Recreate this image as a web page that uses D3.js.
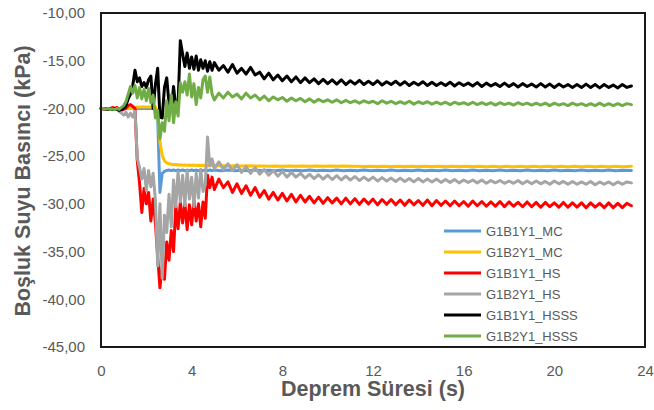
<!DOCTYPE html>
<html><head><meta charset="utf-8">
<script src="https://cdn.jsdelivr.net/npm/d3@7"></script>
<style>
body{margin:0;background:#fff}
text{font-family:'Liberation Sans',Arial,sans-serif}
</style>
</head><body>
<svg id="chart" width="654" height="410"></svg>
<script>
// ---- time samples (s) ----
const tEarly = [0.0,0.1,0.2,0.3,0.4,0.5,0.6,0.7,0.8,0.9,1.0,1.1,1.2,1.3,1.4,1.5,1.6,1.7,1.8,1.9,
  2.0,2.1,2.2,2.3,2.4,2.5,2.6,2.7,2.8,2.9,3.0,3.1,3.2,3.3,3.4,3.5,3.6,3.7,3.8,3.9,
  4.0,4.1,4.2,4.3,4.4,4.5,4.6,4.7,4.8,4.9];
// coarse late samples (MC series)
const tLate = [5.0,5.3,5.6,5.9,6.2,6.5,6.8,7.1,7.4,7.7,8.0,8.3,8.6,8.9,9.2,9.5,9.8,10.1,10.4,10.7,
  11.0,11.3,11.6,11.9,12.2,12.5,12.8,13.1,13.4,13.7,14.0,14.3,14.6,14.9,15.2,15.5,15.8,16.1,16.4,16.7,
  17.0,17.3,17.6,17.9,18.2,18.5,18.8,19.1,19.4,19.7,20.0,20.3,20.6,20.9,21.2,21.5,21.8,22.1,22.4,22.7,
  23.0,23.4];
// dense late samples (HS / HSSS series)
const tLateDense = [5.0,5.2,5.4,5.6,5.8,6.0,6.2,6.4,6.6,6.8,
  7.0,7.2,7.4,7.6,7.8,8.0,8.2,8.4,8.6,8.8,
  9.0,9.2,9.4,9.6,9.8,10.0,10.2,10.4,10.6,10.8,
  11.0,11.2,11.4,11.6,11.8,12.0,12.2,12.4,12.6,12.8,
  13.0,13.2,13.4,13.6,13.8,14.0,14.2,14.4,14.6,14.8,
  15.0,15.2,15.4,15.6,15.8,16.0,16.2,16.4,16.6,16.8,
  17.0,17.2,17.4,17.6,17.8,18.0,18.2,18.4,18.6,18.8,
  19.0,19.2,19.4,19.6,19.8,20.0,20.2,20.4,20.6,20.8,
  21.0,21.2,21.4,21.6,21.8,22.0,22.2,22.4,22.6,22.8,
  23.0,23.2,23.4];

// ---- series names / colours ----
const seriesNames = ["G1B1Y1_MC","G1B2Y1_MC","G1B1Y1_HS","G1B2Y1_HS","G1B1Y1_HSSS","G1B2Y1_HSSS"];
const seriesColors = ["#5B9BD5","#FFC000","#FF0000","#A5A5A5","#000000","#70AD47"];

// ---- G1B1Y1_MC (kPa) ----
const b1MC_early = [-20.0,-20.02,-20.0,-20.03,-20.01,-20.02,-20.0,-20.03,-20.02,-20.0,
  -20.02,-20.0,-20.03,-20.01,-20.0,-20.02,-20.0,-20.02,-20.01,-20.0,
  -20.02,-20.0,-20.02,-20.01,-20.0,-21.0,-28.8,-26.8,-26.6,-26.5,
  -26.45,-26.52,-26.45,-26.52,-26.46,-26.52,-26.45,-26.53,-26.46,-26.52,
  -26.45,-26.52,-26.46,-26.53,-26.45,-26.52,-26.46,-26.52,-26.45,-26.52];
const b1MC_late = [-26.46,-26.53,-26.46,-26.52,-26.47,-26.53,-26.46,-26.52,-26.47,-26.53,
  -26.46,-26.53,-26.47,-26.52,-26.46,-26.53,-26.47,-26.52,-26.46,-26.53,
  -26.47,-26.53,-26.46,-26.52,-26.47,-26.53,-26.46,-26.53,-26.47,-26.52,
  -26.46,-26.53,-26.47,-26.52,-26.46,-26.53,-26.47,-26.53,-26.46,-26.52,
  -26.47,-26.53,-26.46,-26.52,-26.47,-26.53,-26.46,-26.53,-26.47,-26.52,
  -26.46,-26.53,-26.47,-26.52,-26.46,-26.53,-26.47,-26.53,-26.46,-26.52,
  -26.47,-26.5];

// ---- G1B2Y1_MC (kPa) ----
const b2MC_early = [-20.0,-20.02,-20.0,-20.01,-20.02,-20.0,-20.01,-20.02,-20.0,-20.01,
  -20.0,-20.02,-20.0,-20.01,-20.0,-20.0,-19.85,-19.86,-19.84,-19.85,
  -19.86,-19.85,-19.84,-19.86,-19.85,-20.6,-23.5,-24.9,-25.5,-25.7,
  -25.8,-25.85,-25.9,-25.88,-25.93,-25.9,-25.95,-25.92,-25.96,-25.93,
  -25.97,-25.94,-25.98,-25.95,-25.99,-25.96,-26.0,-25.97,-26.0,-25.98];
const b2MC_late = [-26.02,-25.99,-26.03,-26.0,-26.04,-26.01,-26.04,-26.02,-26.05,-26.02,
  -26.05,-26.03,-26.06,-26.03,-26.06,-26.04,-26.07,-26.04,-26.07,-26.04,
  -26.07,-26.05,-26.08,-26.05,-26.08,-26.05,-26.08,-26.05,-26.08,-26.06,
  -26.09,-26.06,-26.09,-26.06,-26.09,-26.06,-26.09,-26.06,-26.09,-26.07,
  -26.1,-26.07,-26.1,-26.07,-26.1,-26.07,-26.1,-26.07,-26.1,-26.07,
  -26.1,-26.07,-26.1,-26.07,-26.1,-26.07,-26.1,-26.07,-26.1,-26.07,
  -26.1,-26.07];

// ---- G1B1Y1_HS (kPa) ----
const b1HS_early = [-20.0,-20.05,-20.1,-20.0,-20.1,-19.9,-20.0,-19.9,-20.1,-20.2,
  -20.1,-20.0,-19.7,-19.6,-19.8,-20.0,-25.5,-27.8,-30.9,-28.4,
  -30.0,-28.8,-31.8,-29.5,-32.0,-35.5,-38.8,-36.5,-37.9,-34.0,
  -35.9,-32.8,-35.0,-30.2,-32.6,-29.8,-32.0,-29.9,-32.7,-30.1,
  -32.2,-29.7,-31.8,-30.0,-32.4,-29.8,-31.5,-27.0,-28.3,-27.2];
const b1HS_late = [-28.5,-27.4,-28.3,-27.7,-28.8,-27.9,-28.9,-28.1,-29.1,-28.3,
  -29.3,-28.6,-29.5,-28.8,-29.6,-28.9,-29.7,-29.0,-29.8,-29.1,
  -29.8,-29.2,-29.9,-29.3,-29.95,-29.35,-29.9,-29.4,-30.0,-29.4,
  -30.0,-29.45,-30.05,-29.5,-30.0,-29.5,-30.1,-29.55,-30.05,-29.55,
  -30.1,-29.6,-30.15,-29.6,-30.1,-29.65,-30.15,-29.6,-30.2,-29.65,
  -30.15,-29.7,-30.2,-29.7,-30.2,-29.75,-30.25,-29.7,-30.2,-29.75,
  -30.25,-29.8,-30.25,-29.75,-30.3,-29.8,-30.25,-29.85,-30.3,-29.8,
  -30.3,-29.85,-30.35,-29.85,-30.3,-29.9,-30.35,-29.85,-30.35,-29.9,
  -30.35,-29.9,-30.4,-29.9,-30.35,-29.95,-30.4,-29.9,-30.4,-29.95,
  -30.4,-29.95,-30.2];

// ---- G1B2Y1_HS (kPa) ----
const b2HS_early = [-20.0,-20.0,-20.05,-20.0,-20.1,-20.05,-20.1,-20.0,-20.3,-20.5,
  -20.7,-20.4,-20.9,-20.5,-20.9,-20.3,-25.2,-26.2,-27.4,-26.3,
  -28.6,-26.5,-28.2,-26.8,-29.6,-36.5,-30.0,-37.8,-31.2,-33.0,
  -29.0,-32.4,-27.5,-30.3,-26.6,-29.8,-27.0,-30.2,-26.5,-29.5,
  -27.2,-30.3,-26.8,-29.4,-26.4,-28.7,-28.0,-23.0,-26.0,-25.3];
const b2HS_late = [-26.3,-25.6,-26.4,-25.8,-26.5,-25.9,-26.7,-26.1,-26.8,-26.2,
  -26.9,-26.4,-27.0,-26.5,-27.1,-26.6,-27.2,-26.7,-27.2,-26.8,
  -27.3,-26.9,-27.35,-26.95,-27.4,-27.0,-27.45,-27.05,-27.5,-27.1,
  -27.5,-27.15,-27.55,-27.2,-27.55,-27.2,-27.6,-27.25,-27.6,-27.3,
  -27.65,-27.3,-27.65,-27.35,-27.7,-27.35,-27.7,-27.4,-27.7,-27.4,
  -27.75,-27.45,-27.75,-27.45,-27.8,-27.5,-27.75,-27.5,-27.8,-27.5,
  -27.85,-27.55,-27.8,-27.55,-27.85,-27.6,-27.85,-27.55,-27.9,-27.6,
  -27.9,-27.6,-27.9,-27.65,-27.95,-27.6,-27.9,-27.65,-27.95,-27.65,
  -27.95,-27.7,-27.95,-27.65,-28.0,-27.7,-27.95,-27.7,-28.0,-27.7,
  -27.95,-27.7,-27.8];

// ---- G1B1Y1_HSSS (kPa) ----
const b1HSSS_early = [-20.0,-20.05,-20.0,-20.1,-20.05,-20.1,-20.0,-20.1,-20.2,-20.1,
  -20.0,-19.7,-19.0,-18.5,-17.6,-16.0,-17.2,-16.8,-17.7,-17.3,
  -17.8,-17.0,-16.6,-20.0,-17.5,-15.8,-20.9,-21.0,-17.8,-16.8,
  -19.5,-20.3,-17.7,-19.9,-19.6,-12.9,-14.3,-15.6,-14.2,-15.8,
  -14.6,-15.9,-14.5,-16.0,-14.9,-15.8,-15.0,-16.1,-15.1,-16.0];
const b1HSSS_late = [-15.2,-16.0,-15.5,-16.2,-15.4,-16.3,-15.8,-16.4,-15.7,-16.5,
  -16.2,-16.9,-16.3,-17.0,-16.5,-17.1,-16.6,-17.2,-16.7,-17.3,
  -16.8,-17.3,-16.9,-17.4,-16.95,-17.4,-17.0,-17.45,-17.0,-17.5,
  -17.1,-17.45,-17.05,-17.5,-17.15,-17.5,-17.1,-17.55,-17.2,-17.5,
  -17.15,-17.55,-17.2,-17.6,-17.25,-17.55,-17.2,-17.6,-17.25,-17.6,
  -17.3,-17.6,-17.25,-17.65,-17.3,-17.6,-17.35,-17.65,-17.3,-17.7,
  -17.35,-17.65,-17.4,-17.7,-17.35,-17.7,-17.4,-17.75,-17.4,-17.7,
  -17.45,-17.75,-17.4,-17.75,-17.45,-17.8,-17.45,-17.75,-17.5,-17.8,
  -17.5,-17.8,-17.45,-17.8,-17.5,-17.85,-17.5,-17.8,-17.55,-17.85,
  -17.5,-17.8,-17.65];

// ---- G1B2Y1_HSSS (kPa) ----
const b2HSSS_early = [-20.0,-20.0,-20.05,-20.0,-20.1,-20.05,-20.1,-20.0,-20.1,-19.9,
  -19.7,-19.3,-18.5,-17.7,-18.4,-17.6,-18.9,-17.8,-19.0,-18.0,
  -19.2,-17.9,-19.4,-18.6,-21.0,-20.2,-23.2,-21.5,-22.4,-19.2,
  -21.3,-18.6,-21.5,-19.3,-20.8,-17.3,-18.3,-17.2,-18.6,-16.4,
  -18.8,-17.4,-19.6,-17.8,-18.9,-17.0,-16.6,-18.3,-16.7,-18.5];
const b2HSSS_late = [-19.1,-18.4,-18.9,-18.3,-18.8,-18.5,-19.0,-18.4,-18.9,-18.6,
  -19.1,-18.7,-19.2,-18.8,-19.1,-18.85,-19.25,-18.9,-19.2,-18.95,
  -19.3,-19.0,-19.35,-19.05,-19.3,-19.1,-19.35,-19.1,-19.4,-19.15,
  -19.4,-19.2,-19.45,-19.2,-19.4,-19.25,-19.5,-19.2,-19.45,-19.25,
  -19.5,-19.3,-19.5,-19.25,-19.55,-19.3,-19.5,-19.3,-19.55,-19.35,
  -19.55,-19.35,-19.6,-19.35,-19.55,-19.4,-19.6,-19.35,-19.6,-19.4,
  -19.6,-19.4,-19.65,-19.4,-19.6,-19.45,-19.65,-19.4,-19.6,-19.45,
  -19.65,-19.45,-19.65,-19.45,-19.7,-19.45,-19.65,-19.5,-19.7,-19.45,
  -19.65,-19.5,-19.7,-19.5,-19.7,-19.45,-19.7,-19.5,-19.7,-19.5,
  -19.7,-19.5,-19.6];

// ---- axis ticks ----
const xTicks = [0,4,8,12,16,20,24];
const yTicks = [-45,-40,-35,-30,-25,-20,-15,-10];

const seriesValues = [
  b1MC_early.concat(b1MC_late),
  b2MC_early.concat(b2MC_late),
  b1HS_early.concat(b1HS_late),
  b2HS_early.concat(b2HS_late),
  b1HSSS_early.concat(b1HSSS_late),
  b2HSSS_early.concat(b2HSSS_late)
];
const seriesTimes = [
  tEarly.concat(tLate), tEarly.concat(tLate),
  tEarly.concat(tLateDense), tEarly.concat(tLateDense),
  tEarly.concat(tLateDense), tEarly.concat(tLateDense)
];

const svg = d3.select("#chart");
const L = 101, R = 645, T = 13, B = 347;
const x = d3.scaleLinear().domain([0,24]).range([L,R]);
const y = d3.scaleLinear().domain([-45,-10]).range([B,T]);
const grey = "#595959";

// lines
const line = d3.line().x(d => x(d[0])).y(d => y(d[1]));
const g = svg.append("g");
seriesValues.forEach((vals, i) => {
  const pts = seriesTimes[i].map((t, k) => [t, vals[k]]);
  g.append("path").datum(pts)
    .attr("d", line)
    .attr("fill","none")
    .attr("stroke", seriesColors[i])
    .attr("stroke-width", 3)
    .attr("stroke-linejoin","round")
    .attr("stroke-linecap","round");
});

// frame
svg.append("rect").attr("x",L).attr("y",T).attr("width",R-L).attr("height",B-T)
  .attr("fill","none").attr("stroke","#1a1a1a").attr("stroke-width",2);

// axes
const xAxis = svg.append("g").attr("transform",`translate(0,${B})`)
  .call(d3.axisBottom(x).tickValues(xTicks).tickSize(0).tickPadding(18).tickFormat(d3.format("d")));
xAxis.select(".domain").remove();
xAxis.selectAll("text").attr("fill",grey).style("font-size","15px");

const yAxis = svg.append("g").attr("transform",`translate(${L},0)`)
  .call(d3.axisLeft(y).tickValues(yTicks).tickSize(0).tickPadding(16)
    .tickFormat(d => d.toFixed(2).replace(".", ",")));
yAxis.select(".domain").remove();
yAxis.selectAll("text").attr("fill",grey).style("font-size","15px");

// axis titles
svg.append("text").attr("x",373).attr("y",396).attr("text-anchor","middle")
  .attr("fill",grey).style("font-size","21.5px").style("font-weight","bold")
  .text("Deprem Süresi (s)");
svg.append("text").attr("transform","translate(30,181) rotate(-90)").attr("text-anchor","middle")
  .attr("fill",grey).style("font-size","21.5px").style("font-weight","bold")
  .text("Boşluk Suyu Basıncı (kPa)");

// legend
const lg = svg.append("g");
seriesNames.forEach((n, i) => {
  const cy = 231 + i*21;
  lg.append("line").attr("x1",444).attr("x2",481).attr("y1",cy).attr("y2",cy)
    .attr("stroke",seriesColors[i]).attr("stroke-width",3);
  lg.append("text").attr("x",486).attr("y",cy).attr("dy","0.35em")
    .attr("fill",grey).style("font-size","13px").text(n);
});
</script>
</body></html>
